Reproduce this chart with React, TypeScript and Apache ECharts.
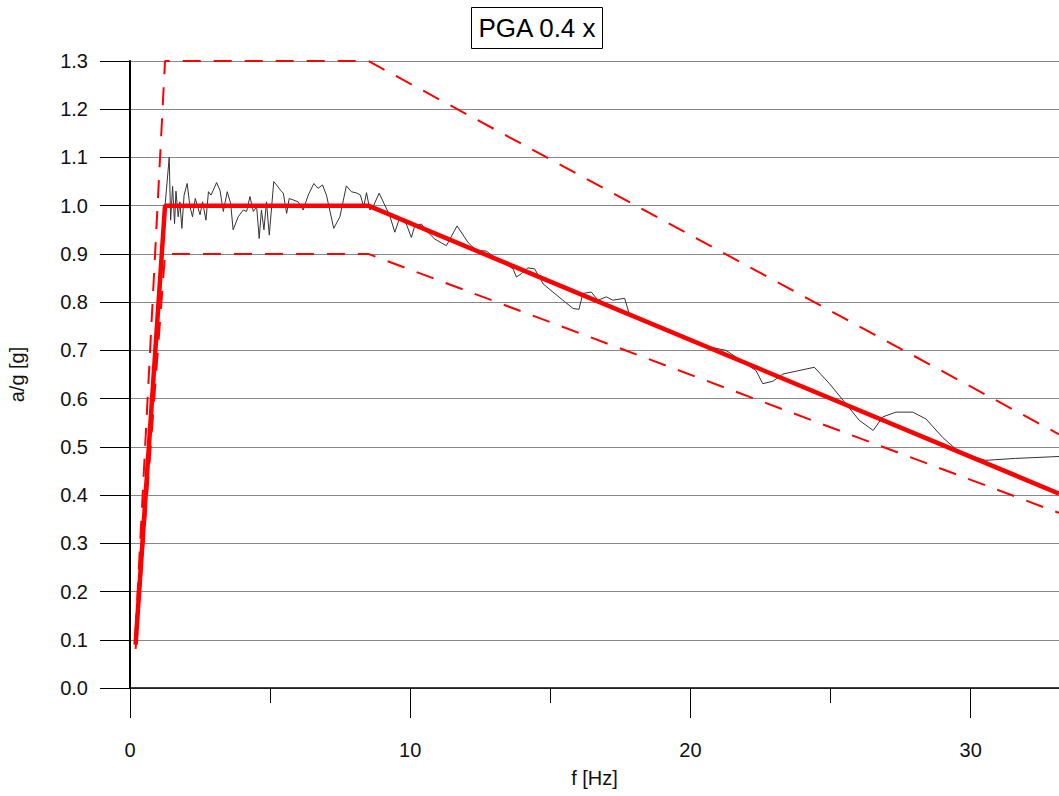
import React, { useEffect, useRef } from "react";
import * as echarts from "echarts";

// Target response spectrum (PGA 0.4)
const targetF = [0.2, 1.25, 8.5, 33.15];
const targetA = [0.09, 1.0, 1.0, 0.403];
// Upper tolerance (1.3x)
const upperF = [0.2, 1.25, 8.5, 33.15];
const upperA = [0.117, 1.3, 1.3, 0.526];
// Lower tolerance (0.9x)
const lowerF = [0.2, 1.25, 8.5, 33.15];
const lowerA = [0.081, 0.9, 0.9, 0.363];

// Measured spectrum
const measF = [
  1.25, 1.4, 1.45, 1.52, 1.59, 1.64, 1.72, 1.78, 1.85, 1.93, 2.04, 2.14, 2.23, 2.33, 2.4, 2.5, 2.59, 2.71,
  2.8, 2.89, 2.97, 3.09, 3.21, 3.33, 3.47, 3.59, 3.68, 3.86, 4.04, 4.16, 4.28, 4.4, 4.52, 4.61, 4.69, 4.78,
  4.87, 4.97, 5.13, 5.23, 5.37, 5.47, 5.59, 5.68, 5.82, 6.0, 6.18, 6.36, 6.56, 6.71, 6.87, 7.01, 7.27, 7.49,
  7.72, 7.9, 8.1, 8.22, 8.34, 8.44, 8.56, 8.7, 8.89, 9.06, 9.27, 9.45, 9.63, 9.86, 10.04, 10.16, 10.4, 10.58,
  10.87, 11.29, 11.67, 12.06, 12.36, 12.71, 13.01, 13.37, 13.67, 13.79, 13.96, 14.2, 14.44, 14.74, 15.09,
  15.51, 15.81, 16.02, 16.16, 16.46, 16.7, 17.0, 17.23, 17.65, 17.83, 18.5, 19.5, 20.2, 20.68, 21.27, 21.98,
  22.34, 22.58, 22.94, 23.3, 24.42, 24.96, 25.55, 26.02, 26.52, 26.86, 27.33, 27.93, 28.4, 28.99, 29.59,
  30.53, 31.6, 33.15,
];
const measA = [
  1.0, 1.1, 0.97, 1.04, 0.963, 1.03, 0.977, 1.008, 0.953, 1.022, 1.046, 0.998, 0.977, 1.015, 1.001, 0.981,
  1.008, 0.97, 1.029, 1.022, 1.032, 1.048, 1.032, 0.988, 1.029, 1.005, 0.95, 0.977, 0.991, 0.988, 1.019,
  0.988, 0.998, 0.932, 0.991, 0.95, 1.008, 0.939, 1.05, 1.043, 1.032, 1.026, 0.984, 1.015, 1.012, 1.008,
  0.991, 1.022, 1.046, 1.036, 1.043, 1.022, 0.953, 0.977, 1.041, 1.029, 1.026, 1.022, 0.998, 1.027, 0.991,
  1.001, 1.026, 1.005, 0.979, 0.945, 0.976, 0.962, 0.934, 0.958, 0.962, 0.948, 0.931, 0.917, 0.958, 0.924,
  0.907, 0.906, 0.893, 0.88, 0.869, 0.852, 0.859, 0.871, 0.869, 0.838, 0.821, 0.801, 0.787, 0.785, 0.818,
  0.821, 0.804, 0.811, 0.804, 0.808, 0.773, 0.757, 0.735, 0.718, 0.707, 0.7, 0.672, 0.658, 0.631, 0.636,
  0.651, 0.665, 0.631, 0.589, 0.555, 0.534, 0.562, 0.572, 0.572, 0.558, 0.52, 0.489, 0.472, 0.476, 0.48,
];

const zip = (xs: number[], ys: number[]) => xs.map((x, i) => [x, ys[i]]);

const FONT = "'Liberation Sans', Arial, sans-serif";

export default function App() {
  const ref = useRef<HTMLDivElement>(null);
  useEffect(() => {
    if (!ref.current) return;
    const chart = echarts.init(ref.current, null, { renderer: "svg" });
    chart.setOption({
      animation: false,
      backgroundColor: "#ffffff",
      grid: { left: 130, top: 61, right: 0, bottom: 108, containLabel: false, outerBoundsMode: "none" },
      graphic: [
        {
          type: "group",
          children: [
            {
              type: "rect",
              shape: { x: 471.5, y: 7.5, width: 131, height: 41 },
              style: { fill: "#fff", stroke: "#000", lineWidth: 1 },
            },
            {
              type: "text",
              x: 537,
              y: 28,
              style: {
                text: "PGA 0.4 x",
                fontSize: 26,
                fontFamily: FONT,
                fill: "#000",
                textAlign: "center",
                textVerticalAlign: "middle",
              },
            },
          ],
        },
      ],
      xAxis: {
        type: "value",
        min: 0,
        max: 33.15,
        interval: 10,
        name: "f [Hz]",
        nameLocation: "middle",
        nameGap: 80,
        nameTextStyle: { fontSize: 20, fontFamily: FONT, color: "#111" },
        axisLine: { show: true, onZero: false, lineStyle: { color: "#000", width: 1.5 } },
        axisTick: { show: true, length: 30, lineStyle: { color: "#000", width: 1 } },
        minorTick: { show: true, splitNumber: 2, length: 15, lineStyle: { color: "#000", width: 1 } },
        splitLine: { show: false },
        axisLabel: {
          fontSize: 20,
          fontFamily: FONT,
          color: "#111",
          margin: 52,
          showMaxLabel: false,
        },
      },
      yAxis: {
        type: "value",
        min: 0,
        max: 1.3,
        interval: 0.1,
        name: "a/g [g]",
        nameLocation: "middle",
        nameRotate: 90,
        nameGap: 103,
        nameTextStyle: { fontSize: 20, fontFamily: FONT, color: "#111" },
        axisLine: { show: true, lineStyle: { color: "#000", width: 2 } },
        axisTick: { show: true, length: 30, lineStyle: { color: "#000", width: 1 } },
        splitLine: { show: true, lineStyle: { color: "#888", width: 1 } },
        axisLabel: {
          fontSize: 20,
          fontFamily: FONT,
          color: "#111",
          margin: 42,
          formatter: (v: number) => v.toFixed(1),
        },
      },
      series: [
        {
          type: "line",
          data: zip(measF, measA),
          showSymbol: false,
          lineStyle: { color: "#333", width: 1 },
          z: 2,
        },
        {
          type: "line",
          data: zip(upperF, upperA),
          showSymbol: false,
          lineStyle: { color: "#ff0000", width: 2, type: [18, 13] },
          z: 3,
        },
        {
          type: "line",
          data: zip(lowerF, lowerA),
          showSymbol: false,
          lineStyle: { color: "#ff0000", width: 2, type: [18, 13] },
          z: 3,
        },
        {
          type: "line",
          data: zip(targetF, targetA),
          showSymbol: false,
          lineStyle: { color: "#ff0000", width: 4.5 },
          z: 4,
        },
      ],
    });
    return () => chart.dispose();
  }, []);
  return (
    <div
      ref={ref}
      style={{ position: "fixed", left: 0, top: 0, width: 1059, height: 796, background: "#fff" }}
    />
  );
}
